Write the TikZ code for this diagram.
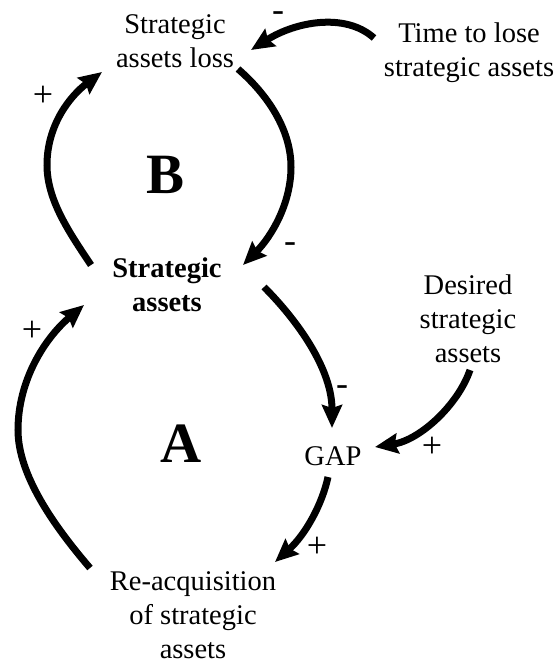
\documentclass[tikz,border=0pt]{standalone}
\usepackage{fontspec}
\setmainfont{Liberation Serif}
\usetikzlibrary{arrows.meta,calc}
\tikzset{
  lbl/.style={inner sep=0pt, outer sep=0pt, align=center, anchor=base, font=\fontsize{28.5}{34}\selectfont},
  sgn/.style={inner sep=0pt, anchor=base, font=\fontsize{36}{40}\selectfont},
  big/.style={inner sep=0pt, anchor=base, font=\fontsize{57}{60}\selectfont\bfseries},
  arr/.style={line width=7pt, -{Stealth[length=23pt,width=20pt,inset=3pt]}}
}
\begin{document}
\begin{tikzpicture}[x=1pt,y=-1pt]
\useasboundingbox (0,0) rectangle (558,661);
% nodes (anchor = baseline of last line)
\node[lbl] (loss) at (175,67) {Strategic\\assets loss};
\node[lbl] (time) at (469,77) {Time to lose\\strategic assets};
\node[lbl, font=\fontsize{28.5}{34}\selectfont\bfseries] (sa) at (167,311) {Strategic\\assets};
\node[lbl] (desired) at (468,362) {Desired\\strategic\\assets};
\node[lbl] (gap) at (333,465) {GAP};
\node[lbl] (reacq) at (193,658) {Re-acquisition\\of strategic\\assets};
\node[big] (B) at (166,193) {B};
\node[big] (A) at (181,462) {A};
% signs
\node[sgn] (s1) at (278,22) {-};
\node[sgn] (s2) at (43,106) {+};
\node[sgn] (s3) at (290,252) {-};
\node[sgn] (s4) at (32,341) {+};
\node[sgn] (s5) at (342,395) {-};
\node[sgn] (s6) at (432,457) {+};
\node[sgn] (s7) at (317,557) {+};
% connectors
\draw[arr] ($(sa.base)+(-76,-46)$) .. controls (69,232) and (47,200) .. (47,165)
           .. controls (47,125) and (70,96) .. ($(loss.base)+(-73,5)$);
\draw[arr] ($(loss.base)+(63,2)$) .. controls (268,95) and (291,130) .. (291,167)
           .. controls (291,204) and (271,237) .. ($(sa.base)+(76,-46)$);
\draw[arr] ($(time.base)+(-95,-39)$) .. controls (345,12) and (295,22) .. ($(loss.base)+(76,-17)$);
\draw[arr] ($(sa.base)+(97,-24)$) .. controls (299,322) and (332,370) .. ($(gap.base)+(-1,-37)$);
\draw[arr] ($(desired.base)+(2,8)$) .. controls (458,405) and (420,440) .. ($(gap.base)+(42,-18)$);
\draw[arr] ($(gap.base)+(-5,12)$) .. controls (322,505) and (305,535) .. ($(reacq.base)+(82,-96)$);
\draw[arr] ($(reacq.base)+(-103,-90)$) .. controls (54,526) and (18,475) .. (18,430)
           .. controls (18,380) and (45,338) .. ($(sa.base)+(-83,-6)$);
\end{tikzpicture}
\end{document}
